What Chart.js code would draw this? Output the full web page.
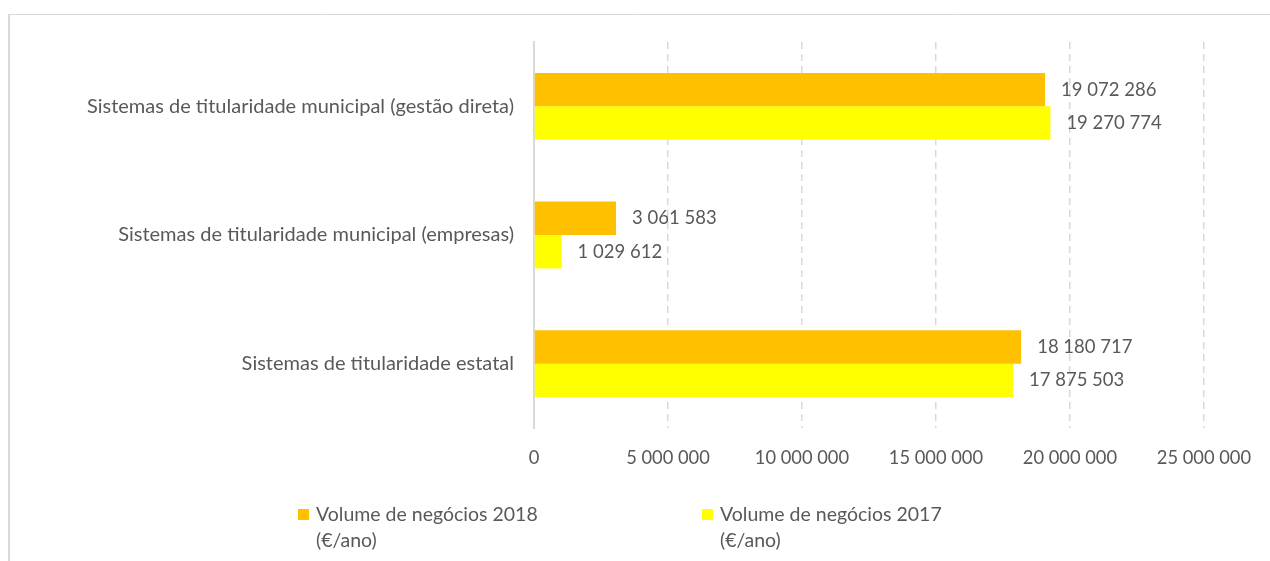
<!DOCTYPE html>
<html>
<head>
<meta charset="utf-8">
<script src="https://cdn.jsdelivr.net/npm/chart.js@4/dist/chart.umd.min.js"></script>
<style>
  html, body { margin: 0; padding: 0; background: #fff; }
  #wrap { width: 1270px; height: 561px; position: relative; }
</style>
</head>
<body>
<div id="wrap"><canvas id="charVolumeNegocios" width="1270" height="561"></canvas></div>
<script>
/* Volume de negocios por tipo de sistema */

const categories = [
    'Sistemas de titularidade municipal (gestão direta)',
    'Sistemas de titularidade municipal (empresas)',
    'Sistemas de titularidade estatal'
];
const volume2018 = [19072286, 3061583, 18180717];
const volume2017 = [19270774, 1029612, 17875503];
const seriesLabels = [
    ['Volume de negócios 2018', '(€/ano)'],
    ['Volume de negócios 2017', '(€/ano)']
];
const seriesColors = ['#FFC000', '#FFFF00'];
const xTicks = [0, 5000000, 10000000, 15000000, 20000000, 25000000];

const fontFamily = 'Lato, "Open Sans", sans-serif';
const textColor = '#595959';

fmtNumber = (n) => n.toString().replace(/\B(?=(\d{3})+(?!\d))/g, ' ');

/* moldura */
const frame = {
    id: 'frame',
    beforeDraw(chart) {
        const ctx = chart.ctx;
        ctx.save();
        ctx.strokeStyle = '#d9d9d9';
        ctx.lineWidth = 1;
        ctx.beginPath();
        ctx.moveTo(9, 14.5);
        ctx.lineTo(1270, 14.5);
        ctx.stroke();
        ctx.lineWidth = 2;
        ctx.beginPath();
        ctx.moveTo(9, 14);
        ctx.lineTo(9, 561);
        ctx.stroke();
        ctx.restore();
    }
};

/* rotulos de dados */
const barLabels = {
    id: 'barLabels',
    afterDatasetsDraw(chart) {
        const ctx = chart.ctx;
        ctx.save();
        ctx.font = '18.5px ' + fontFamily;
        ctx.fillStyle = textColor;
        ctx.textAlign = 'left';
        ctx.textBaseline = 'middle';
        chart.data.datasets.forEach((ds, i) => {
            const meta = chart.getDatasetMeta(i);
            meta.data.forEach((el, j) => {
                ctx.fillText(fmtNumber(ds.data[j]), el.x + 16, el.y);
            });
        });
        ctx.restore();
    }
};

/* legenda em duas linhas */
const legendBox = {
    id: 'legendBox',
    afterDraw(chart) {
        const ctx = chart.ctx;
        const startX = [298, 702];
        ctx.save();
        ctx.font = '19.5px ' + fontFamily;
        ctx.textAlign = 'left';
        ctx.textBaseline = 'middle';
        chart.data.datasets.forEach((ds, i) => {
            ctx.fillStyle = ds.backgroundColor;
            ctx.fillRect(startX[i], 509, 11, 11);
            ctx.fillStyle = textColor;
            ds.label.forEach((line, k) => {
                ctx.fillText(line, startX[i] + 18, 515 + k * 26);
            });
        });
        ctx.restore();
    }
};

const cvn = document.getElementById('charVolumeNegocios');
const charVolumeNegocios = new Chart(cvn, {
    type: 'bar',
    data: {
        labels: categories,
        datasets: [{
            label: seriesLabels[0],
            data: volume2018,
            backgroundColor: seriesColors[0],
            borderWidth: 0,
        }, {
            label: seriesLabels[1],
            data: volume2017,
            backgroundColor: seriesColors[1],
            borderWidth: 0,
        }],
    },
    options: {
        indexAxis: 'y',
        responsive: false,
        animation: false,
        layout: {
            padding: { left: 0, top: 42, right: 59, bottom: 0 },
        },
        datasets: {
            bar: {
                categoryPercentage: 0.52,
                barPercentage: 1,
            },
        },
        scales: {
            x: {
                min: 0,
                max: 25000000,
                afterFit: (s) => { s.height = 133; },
                afterBuildTicks: (s) => { s.ticks = xTicks.map(v => ({ value: v })); },
                ticks: {
                    padding: 19,
                    color: textColor,
                    font: { family: fontFamily, size: 18.3 },
                    callback: (v) => fmtNumber(v),
                },
                grid: {
                    drawTicks: false,
                    lineWidth: 1.5,
                    color: (c) => c.index === 0 ? 'rgba(0,0,0,0)' : '#d9d9d9',
                },
                border: {
                    display: false,
                    dash: [7, 5],
                },
            },
            y: {
                afterFit: (s) => { s.width = 534; },
                ticks: {
                    padding: 20,
                    color: textColor,
                    font: { family: fontFamily, size: 20 },
                },
                grid: {
                    display: false,
                    drawTicks: false,
                },
                border: {
                    display: true,
                    color: '#d9d9d9',
                    width: 2,
                },
            },
        },
        plugins: {
            legend: {
                display: false,
            },
            tooltip: {
                enabled: false,
            },
        },
    },
    plugins: [frame, barLabels, legendBox],
});
</script>
</body>
</html>
